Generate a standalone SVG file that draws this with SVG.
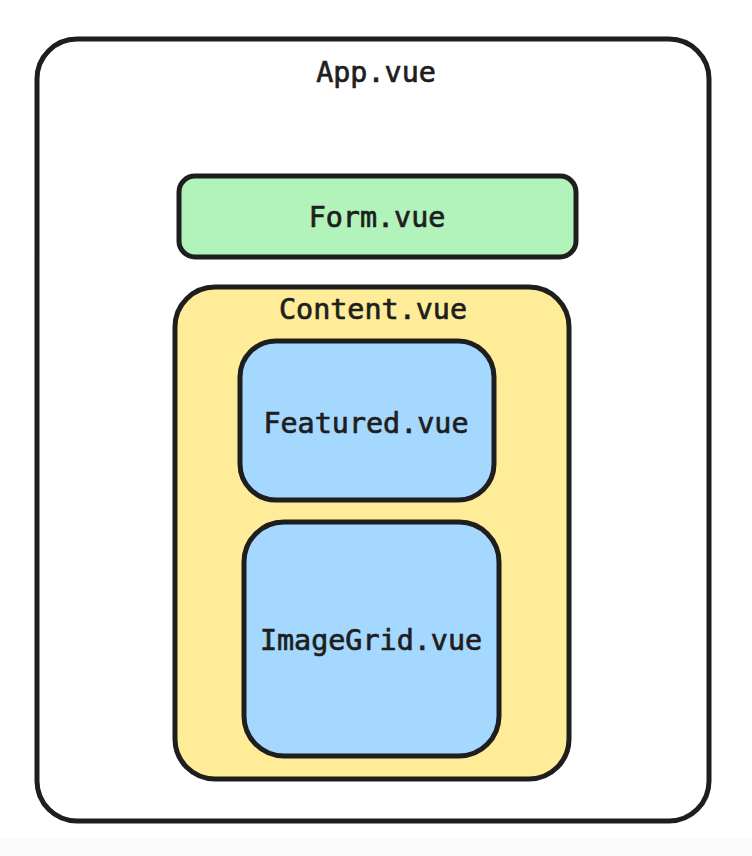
<svg xmlns="http://www.w3.org/2000/svg" width="752" height="856" viewBox="0 0 752 856">
  <style>
    .box { stroke: #1e1e1e; stroke-width: 5; stroke-linejoin: round; }
    .lbl { font-family: "DejaVu Sans Mono", "Liberation Mono", monospace; font-size: 28.4px; font-weight: normal; fill: #1e1e1e; stroke: #1e1e1e; stroke-width: 0.7; text-anchor: middle; dominant-baseline: central; }
  </style>
  <rect x="0" y="0" width="752" height="856" fill="#ffffff"/>
  <rect x="0" y="838" width="752" height="18" fill="#fbfbfb"/>
  <g id="app">
    <rect class="box" x="37" y="39" width="672" height="782" rx="40" ry="40" fill="#ffffff"/>
    <text class="lbl" x="376" y="72">App.vue</text>
  </g>
  <g id="form">
    <rect class="box" x="179" y="176" width="397" height="81" rx="16" ry="16" fill="#b2f2bb"/>
    <text class="lbl" x="377" y="217">Form.vue</text>
  </g>
  <g id="content">
    <rect class="box" x="175" y="287" width="394" height="492" rx="40" ry="40" fill="#ffec99"/>
    <text class="lbl" x="373" y="309">Content.vue</text>
  </g>
  <g id="featured">
    <rect class="box" x="240" y="341" width="254" height="159" rx="36" ry="36" fill="#a5d8ff"/>
    <text class="lbl" x="366" y="423">Featured.vue</text>
  </g>
  <g id="imagegrid">
    <rect class="box" x="244" y="522" width="255" height="234" rx="40" ry="40" fill="#a5d8ff"/>
    <text class="lbl" x="371" y="640">ImageGrid.vue</text>
  </g>
  <g id="connectors"/>
</svg>
